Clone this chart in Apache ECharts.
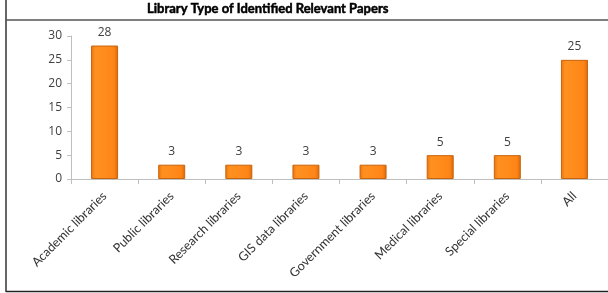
<!DOCTYPE html>
<html><head><meta charset="utf-8">
<script src="https://cdn.jsdelivr.net/npm/echarts@6/dist/echarts.min.js"></script>
<style>html,body{margin:0;padding:0;background:#fff}#c{width:608px;height:293px}</style>
</head><body><div id="c"></div>
<script>
const categories = ["Academic libraries","Public libraries","Research libraries","GIS data libraries","Government libraries","Medical libraries","Special libraries","All"];
const papers = [28,3,3,3,3,5,5,25];
const yTicks = [0,5,10,15,20,25,30];
const titleText = "Library Type of Identified Relevant Papers";

const chart = echarts.init(document.getElementById('c'), null, {renderer:'canvas'});
const barColor = new echarts.graphic.LinearGradient(0,0,1,0,[
  {offset:0,color:'#e8740f'},
  {offset:0.15,color:'#ff9020'},
  {offset:0.5,color:'#ff8c1c'},
  {offset:0.85,color:'#ff8416'},
  {offset:1,color:'#d8680c'}
]);
chart.setOption({
  animation:false,
  title:{text:titleText,left:147,top:2,padding:0,
    textStyle:{fontFamily:'Lato',fontWeight:'bold',fontSize:13,color:'#000',textBorderColor:'#000',textBorderWidth:0.5}},
  grid:{left:71,right:0,top:36,bottom:114,containLabel:false},
  graphic:[
    {type:'line',shape:{x1:6,y1:0,x2:6,y2:292},style:{stroke:'#333',lineWidth:1.5}},
    {type:'line',shape:{x1:6,y1:20,x2:608,y2:20},style:{stroke:'#555',lineWidth:1.5}},
    {type:'line',shape:{x1:6,y1:291.5,x2:608,y2:291.5},style:{stroke:'#222',lineWidth:1.5}}
  ],
  xAxis:{type:'category',data:categories,
    axisLine:{lineStyle:{color:'#bfbfbf'}},
    axisTick:{show:true,length:5,lineStyle:{color:'#bfbfbf'}},
    axisLabel:{rotate:45,interval:0,margin:15,fontFamily:'Lato',fontSize:12.5,color:'#333'}},
  yAxis:{type:'value',min:yTicks[0],max:yTicks[yTicks.length-1],interval:5,
    splitLine:{show:false},
    axisLine:{show:true,lineStyle:{color:'#bfbfbf'}},
    axisTick:{show:true,length:4,lineStyle:{color:'#bfbfbf'}},
    axisLabel:{margin:9,fontFamily:'Open Sans',fontSize:12,color:'#404040'}},
  series:[{type:'bar',data:papers,barWidth:27,
    itemStyle:{color:barColor,borderColor:'#c8640c',borderWidth:1},
    label:{show:true,position:'top',distance:7,fontFamily:'Open Sans',fontSize:12,color:'#404040'}}]
});
</script></body></html>
